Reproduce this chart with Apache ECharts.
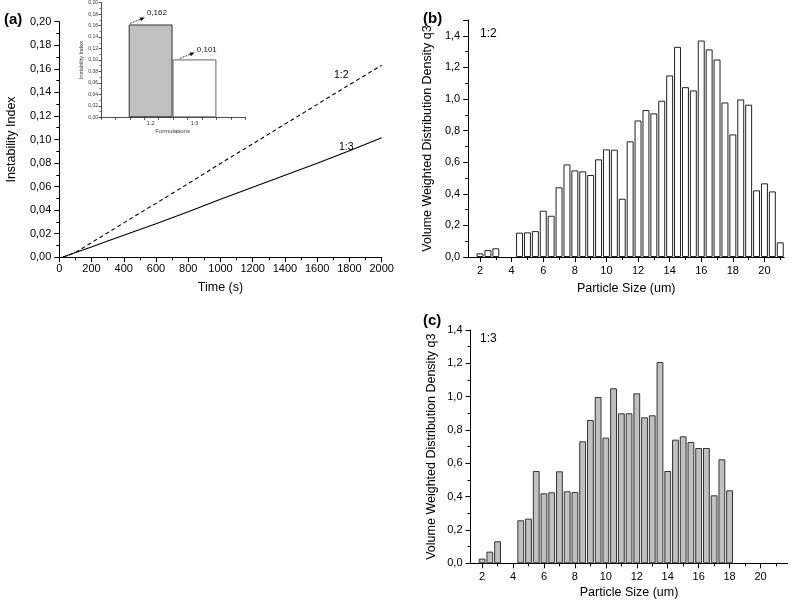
<!DOCTYPE html>
<html><head><meta charset="utf-8">
<script src="https://cdn.jsdelivr.net/npm/echarts/dist/echarts.min.js"></script>
<style>html,body{margin:0;padding:0;background:#fff}#c{width:793px;height:603px}</style>
</head><body><div id="c"></div>
<script>
// ---- Panel (a): instability index vs time ----
const timeS = [20,100,200,300,400,500,600,700,800,900,1000,1100,1200,1300,1400,1500,1600,1700,1800,1900,2000];
const instab12 = [0,0.004,0.0125,0.0208,0.0292,0.0376,0.0458,0.0542,0.0626,0.0711,0.0797,0.0880,0.0963,0.1047,0.1131,0.1214,0.1298,0.1382,0.1465,0.1548,0.163];
const instab13 = [0,0.004,0.0088,0.0138,0.0188,0.0236,0.0285,0.0335,0.0386,0.0439,0.0492,0.0543,0.0594,0.0645,0.0696,0.0747,0.0799,0.0852,0.0905,0.0960,0.1015];
// ---- Inset: final instability index ----
const formulations = ['1:2','1:3'];
const finalInstab = [0.162, 0.101];
// ---- Panels (b),(c): particle size distribution ----
const sizesB = ['1.5','2','2.5','3','3.5','4','4.5','5','5.5','6','6.5','7','7.5','8','8.5','9','9.5','10','10.5','11','11.5','12','12.5','13','13.5','14','14.5','15','15.5','16','16.5','17','17.5','18','18.5','19','19.5','20','20.5','21'];
const q3_12 = ['-',0.023,0.044,0.055,'-','-',0.154,0.156,0.164,0.293,0.261,0.441,0.586,0.548,0.542,0.519,0.618,0.681,0.679,0.369,0.732,0.864,0.930,0.909,0.989,1.149,1.330,1.075,1.054,1.370,1.314,1.250,0.978,0.776,0.997,0.964,0.422,0.466,0.415,0.093];
const sizesC = ['1.5','2','2.5','3','3.5','4','4.5','5','5.5','6','6.5','7','7.5','8','8.5','9','9.5','10','10.5','11','11.5','12','12.5','13','13.5','14','14.5','15','15.5','16','16.5','17','17.5','18','18.5','19','19.5','20','20.5','21','21.5'];
const q3_13 = ['-',0.028,0.070,0.132,'-','-',0.258,0.268,0.554,0.420,0.426,0.552,0.432,0.428,0.732,0.860,0.998,0.754,1.050,0.900,0.900,1.020,0.876,0.888,1.208,0.554,0.742,0.762,0.728,0.692,0.692,0.408,0.624,0.438,'-','-','-','-','-','-','-'];

const FONT = '"Liberation Sans", Arial, sans-serif';
const BLACK = '#000';
const comma = d => v => v.toFixed(d).replace('.', ',');
const isEven = (i, v) => { const n = Number(v); return Number.isInteger(n) && n % 2 === 0; };
const isOdd = (i, v) => { const n = Number(v); return Number.isInteger(n) && n % 2 !== 0; };
const line = {show:true, lineStyle:{color:BLACK, width:1}};

function valueY(grid, max, digits, showMax, opts) {
  return Object.assign({
    type:'value', gridIndex:grid, min:0, max:max, interval:0.2,
    axisLine:line, splitLine:{show:false},
    axisTick:{show:true, length:5, lineStyle:{color:BLACK}},
    minorTick:{show:true, splitNumber:2, length:3, lineStyle:{color:BLACK}},
    axisLabel:{formatter:comma(digits), color:BLACK, fontSize:11, fontFamily:FONT, margin:8, showMaxLabel:showMax},
    nameLocation:'middle', nameTextStyle:{fontSize:12.5, fontFamily:FONT, color:BLACK}
  }, opts);
}
function catMajor(grid, data, opts) {
  return Object.assign({
    type:'category', gridIndex:grid, data:data, position:'bottom',
    axisLine:line,
    axisTick:{show:true, alignWithLabel:true, interval:isEven, length:5, lineStyle:{color:BLACK}},
    axisLabel:{interval:isEven, color:BLACK, fontSize:11, fontFamily:FONT, margin:8},
    nameLocation:'middle', nameTextStyle:{fontSize:12.5, fontFamily:FONT, color:BLACK}
  }, opts);
}
function catMinor(grid, data) {
  return {
    type:'category', gridIndex:grid, data:data, position:'bottom',
    axisLine:{show:false},
    axisTick:{show:true, alignWithLabel:true, interval:isOdd, length:3, lineStyle:{color:BLACK}},
    axisLabel:{show:false}
  };
}

const chart = echarts.init(document.getElementById('c'), null, {renderer:'canvas'});
const option = {
  backgroundColor:'#fff',
  animation:false,
  grid:[
    {left:59.3, right:411.3, top:21.7, bottom:345.7, outerBoundsMode:'none'},
    {left:101, right:547.7, top:2.7, bottom:485.7, outerBoundsMode:'none'},
    {left:128.7, right:576.6, top:2.7, bottom:485.7, outerBoundsMode:'none'},
    {left:468.2, right:8.8, top:20, bottom:346, outerBoundsMode:'none'},
    {left:470.5, right:5.4, top:330, bottom:39.7, outerBoundsMode:'none'}
  ],
  xAxis:[
    {type:'value', gridIndex:0, min:0, max:2000, interval:200,
     axisLine:line, splitLine:{show:false},
     axisTick:{show:true, length:5, lineStyle:{color:BLACK}},
     minorTick:{show:true, splitNumber:2, length:3, lineStyle:{color:BLACK}},
     axisLabel:{color:BLACK, fontSize:11, fontFamily:FONT, margin:6, formatter:v=>String(v)},
     name:'Time (s)', nameLocation:'middle', nameGap:24,
     nameTextStyle:{fontSize:12.5, fontFamily:FONT, color:BLACK}},
    {type:'value', gridIndex:1, min:0, max:10, interval:1,
     axisLine:{show:true, lineStyle:{color:'#222', width:0.8}}, splitLine:{show:false},
     axisTick:{show:true, length:2.5, lineStyle:{color:'#222', width:0.8}},
     axisLabel:{show:false}},
    {type:'category', gridIndex:2, data:formulations,
     axisLine:{show:false}, axisTick:{show:false},
     axisLabel:{color:'#333', fontSize:5.5, fontFamily:FONT, margin:3},
     name:'Formulations', nameLocation:'middle', nameGap:11,
     nameTextStyle:{fontSize:6, fontFamily:FONT, color:'#333'}},
    catMajor(3, sizesB, {name:'Particle Size (um)', nameGap:25}),
    catMinor(3, sizesB),
    catMajor(4, sizesC, {name:'Particle Size (um)', nameGap:23}),
    catMinor(4, sizesC)
  ],
  yAxis:[
    valueY(0, 0.2, 2, true, {interval:0.02, name:'Instability Index', nameGap:41}),
    {type:'value', gridIndex:1, min:0, max:0.2, interval:0.02,
     axisLine:{show:true, lineStyle:{color:'#222', width:0.8}}, splitLine:{show:false},
     axisTick:{show:true, length:2.5, lineStyle:{color:'#222', width:0.8}},
     minorTick:{show:true, splitNumber:2, length:1.5, lineStyle:{color:'#222', width:0.6}},
     axisLabel:{formatter:comma(2), color:'#333', fontSize:5, fontFamily:FONT, margin:3},
     name:'Instability Index', nameLocation:'middle', nameGap:17,
     nameTextStyle:{fontSize:5.5, fontFamily:FONT, color:'#333'}},
    {type:'value', gridIndex:2, min:0, max:0.2, show:false},
    valueY(3, 1.5, 1, false, {name:'Volume Weighted Distribution Density q3', nameGap:34}),
    valueY(4, 1.4, 1, true, {name:'Volume Weighted Distribution Density q3', nameGap:32})
  ],
  series:[
    {type:'line', name:'1:2', xAxisIndex:0, yAxisIndex:0, showSymbol:false,
     data:timeS.map((t,i)=>[t, instab12[i]]),
     lineStyle:{color:BLACK, width:1.1, type:[4,3]}},
    {type:'line', name:'1:3', xAxisIndex:0, yAxisIndex:0, showSymbol:false,
     data:timeS.map((t,i)=>[t, instab13[i]]),
     lineStyle:{color:BLACK, width:1.1}},
    {type:'bar', xAxisIndex:2, yAxisIndex:2, barWidth:'100%',
     data:finalInstab.map((v,i)=>({
       value:v,
       itemStyle: i===0 ? {color:'#c0c0c0', borderColor:'#333', borderWidth:1}
                        : {color:'#fff', borderColor:'#666', borderWidth:1},
       label:{offset: i===0 ? [6.3,-2.8] : [12.3,-1]}
     })),
     label:{show:true, position:'top', distance:5, formatter:p=>comma(3)(p.value),
            fontSize:8, fontFamily:FONT, color:'#111'}},
    {type:'bar', xAxisIndex:3, yAxisIndex:3, barCategoryGap:'12%', data:q3_12,
     itemStyle:{color:'#fff', borderColor:'#222', borderWidth:1}},
    {type:'bar', xAxisIndex:5, yAxisIndex:4, barCategoryGap:'12%', data:q3_13,
     itemStyle:{color:'#c0c0c0', borderColor:'#333', borderWidth:1}}
  ]
};
chart.setOption(option);

// annotation texts and arrows for the inset labels
const txt = (x, y, s, size, bold) => ({type:'text', x:x, y:y,
  style:{text:s, fontSize:size, fontFamily:FONT, fontWeight:bold?'bold':'normal', fill:BLACK, textAlign:'left', textVerticalAlign:'middle'}});
const graphics = [
  txt(4, 20, '(a)', 15, true),
  txt(423, 19, '(b)', 15, true),
  txt(423, 321, '(c)', 15, true),
  txt(334, 75, '1:2', 10.5),
  txt(339, 147, '1:3', 10.5),
  txt(480, 34, '1:2', 12),
  txt(480, 339, '1:3', 12)
];
const offX = [6.3, 12.3];
formulations.forEach((f, i) => {
  const p = chart.convertToPixel({xAxisIndex:2, yAxisIndex:2}, [f, finalInstab[i]]);
  const ex = p[0] + offX[i] - 12, ey = p[1] - 7;
  const sx = ex - 15, sy = ey + 6;
  const ang = Math.atan2(ey - sy, ex - sx);
  const hl = 5, hw = 2;
  const bx = ex - hl*Math.cos(ang), by = ey - hl*Math.sin(ang);
  graphics.push({type:'line', shape:{x1:sx, y1:sy, x2:bx, y2:by}, style:{stroke:'#111', lineWidth:0.8, lineDash:[2,1]}});
  graphics.push({type:'polygon', shape:{points:[[ex,ey],[bx - hw*Math.sin(ang), by + hw*Math.cos(ang)],[bx + hw*Math.sin(ang), by - hw*Math.cos(ang)]]}, style:{fill:'#111'}});
});
chart.setOption({graphic:graphics});
</script>
</body></html>
